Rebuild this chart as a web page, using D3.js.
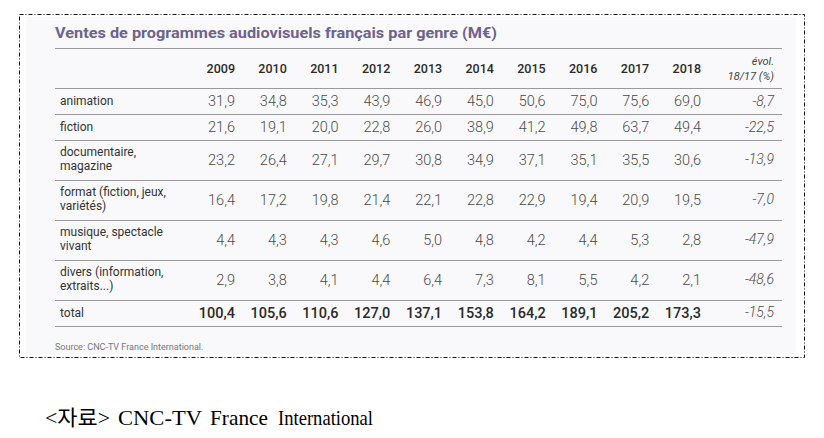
<!DOCTYPE html>
<html><head><meta charset="utf-8">
<script src="https://cdn.jsdelivr.net/npm/d3@7/dist/d3.min.js"></script>
<style>
html,body{margin:0;padding:0;background:#fff;}
svg{display:block;}
</style></head>
<body>
<svg id="chart" width="824" height="438"></svg>
<script>
// ---- data ----
const title = "Ventes de programmes audiovisuels français par genre (M€)";
const years = ["2009","2010","2011","2012","2013","2014","2015","2016","2017","2018"];
const evolHeader = ["évol.", "18/17 (%)"];
const genres = [
  ["animation"],
  ["fiction"],
  ["documentaire,", "magazine"],
  ["format (fiction, jeux,", "variétés)"],
  ["musique, spectacle", "vivant"],
  ["divers (information,", "extraits...)"]
];
const animation   = [31.9, 34.8, 35.3, 43.9, 46.9, 45.0, 50.6, 75.0, 75.6, 69.0];
const fiction     = [21.6, 19.1, 20.0, 22.8, 26.0, 38.9, 41.2, 49.8, 63.7, 49.4];
const documentaire= [23.2, 26.4, 27.1, 29.7, 30.8, 34.9, 37.1, 35.1, 35.5, 30.6];
const format      = [16.4, 17.2, 19.8, 21.4, 22.1, 22.8, 22.9, 19.4, 20.9, 19.5];
const musique     = [4.4, 4.3, 4.3, 4.6, 5.0, 4.8, 4.2, 4.4, 5.3, 2.8];
const divers      = [2.9, 3.8, 4.1, 4.4, 6.4, 7.3, 8.1, 5.5, 4.2, 2.1];
const total       = [100.4, 105.6, 110.6, 127.0, 137.1, 153.8, 164.2, 189.1, 205.2, 173.3];
const evol        = [-8.7, -22.5, -13.9, -7.0, -47.9, -48.6, -15.5];
const source = "Source: CNC-TV France International.";
const caption = ["<자료>", "CNC-TV", "France", "International"];

// ---- drawing ----
const svg = d3.select("#chart");
const fmt = v => v.toFixed(1).replace(".", ",");
const seriesRows = [animation, fiction, documentaire, format, musique, divers];

// panel + dashed frame
svg.append("rect").attr("x", 26).attr("y", 17).attr("width", 770).attr("height", 337)
  .attr("fill", "#f9f9fb");
svg.append("rect").attr("x", 19.5).attr("y", 14.5).attr("width", 785).attr("height", 343)
  .attr("fill", "none").attr("stroke", "#111").attr("stroke-width", 1)
  .attr("stroke-dasharray", "4,2,1,2");

const left = 55, right = 782;
const x = d3.scalePoint().domain(years).range([235, 701]);
const xEvol = 774;
const labelX = 60;

// title
svg.append("text").attr("x", left).attr("y", 33).attr("dy", "0.35em")
  .attr("font-family", "Roboto, 'Open Sans', sans-serif").attr("font-weight", 700)
  .attr("font-size", 15).attr("fill", "#6d6290")
  .attr("textLength", 442).attr("lengthAdjust", "spacingAndGlyphs")
  .text(title);

const rule = y => svg.append("line").attr("x1", left).attr("x2", right)
  .attr("y1", y).attr("y2", y).attr("stroke", "#9a9a9a").attr("stroke-width", 1);
rule(48.5);

// header
svg.selectAll("text.year").data(years).join("text").attr("class", "year")
  .attr("x", d => x(d)).attr("y", 69).attr("dy", "0.35em").attr("text-anchor", "end")
  .attr("font-family", "Roboto, sans-serif").attr("font-weight", 500)
  .attr("font-size", 12.5).attr("fill", "#2a2a2a").text(d => d);
svg.selectAll("text.evh").data(evolHeader).join("text").attr("class", "evh")
  .attr("x", xEvol).attr("y", (d, i) => 61 + i * 15).attr("dy", "0.35em").attr("text-anchor", "end")
  .attr("font-family", "Roboto, sans-serif").attr("font-style", "italic")
  .attr("font-size", 11).attr("fill", "#444").text(d => d);
rule(88.5);

// row geometry from label line counts
const rowH = n => n > 1 ? 40 : 25.5;
let yCur = 88.5;
const rows = genres.map((g, i) => {
  const h = rowH(g.length);
  const r = { label: g, values: seriesRows[i], evol: evol[i], y0: yCur, mid: yCur + h / 2 };
  yCur += h;
  r.y1 = yCur;
  return r;
});
const totalRow = { label: ["total"], values: total, evol: evol[6], y0: yCur, mid: yCur + 13, bold: true };
totalRow.y1 = yCur + 26;
rows.push(totalRow);

rows.forEach(r => {
  const g = svg.append("g");
  const nl = r.label.length;
  g.selectAll("text.lab").data(r.label).join("text").attr("class", "lab")
    .attr("x", labelX).attr("y", (d, i) => r.mid + (i - (nl - 1) / 2) * 14.5 - (nl > 1 ? 0.5 : 0))
    .attr("dy", "0.35em")
    .attr("font-family", "Roboto, sans-serif").attr("font-size", 12)
    .attr("fill", "#333").text(d => d);
  g.selectAll("text.val").data(r.values).join("text").attr("class", "val")
    .attr("x", (d, i) => x(years[i])).attr("y", r.mid).attr("dy", "0.35em")
    .attr("text-anchor", "end")
    .attr("font-family", "Roboto, sans-serif")
    .attr("font-weight", r.bold ? 500 : 300)
    .attr("font-size", 14.5).attr("fill", r.bold ? "#2a2a2a" : "#4a4a4a")
    .text(d => fmt(d));
  g.append("text").attr("x", xEvol).attr("y", r.mid).attr("dy", "0.35em")
    .attr("text-anchor", "end").attr("font-family", "Roboto, sans-serif")
    .attr("font-style", "italic").attr("font-weight", 300)
    .attr("font-size", 14).attr("fill", "#4a4a4a").text(fmt(r.evol));
  rule(Math.round(r.y1) + 0.5);
});

// source
svg.append("text").attr("x", left).attr("y", 347).attr("dy", "0.35em")
  .attr("font-family", "Roboto, sans-serif").attr("font-size", 9)
  .attr("fill", "#777").text(source);

// caption below
const capX = [45, 118, 210, 278];
const capW = [65, 84, 58, 95];
svg.selectAll("text.cap").data(caption).join("text").attr("class", "cap")
  .attr("x", (d, i) => capX[i]).attr("y", 425)
  .attr("font-family", "'Liberation Serif', 'Noto Sans CJK KR', serif")
  .attr("font-size", 21).attr("font-weight", 400).attr("fill", "#000")
  .attr("textLength", (d, i) => capW[i]).attr("lengthAdjust", "spacingAndGlyphs")
  .text(d => d);
</script>
</body></html>
